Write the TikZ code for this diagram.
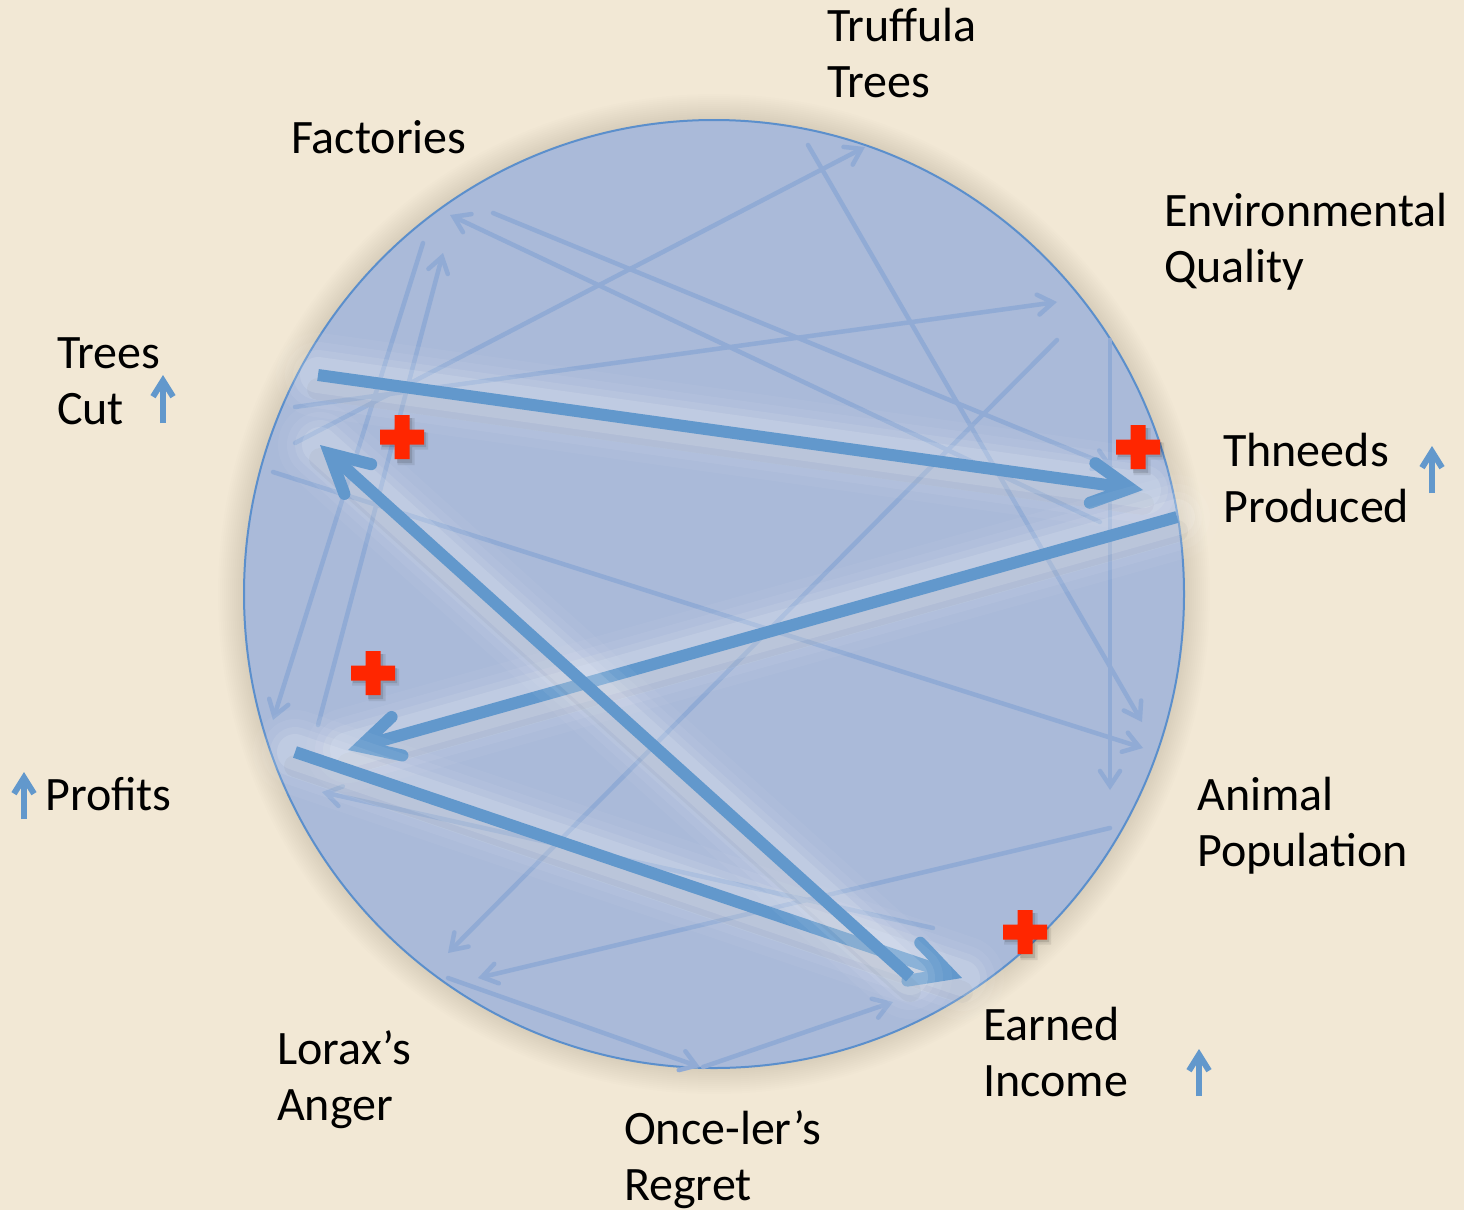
\documentclass[tikz,border=0pt]{standalone}
\usepackage{fontspec}
\setmainfont{Carlito}
\usetikzlibrary{arrows.meta}
\definecolor{parch}{HTML}{F2E8D5}
\definecolor{disc}{HTML}{AABAD9}
\definecolor{rim}{HTML}{5B8FCC}
\definecolor{bigblue}{HTML}{6298CC}
\definecolor{faintblue}{HTML}{91ABD5}
\definecolor{plusred}{HTML}{FF2600}
\tikzset{
  lbl/.style={anchor=base west, inner sep=0pt, font=\fontsize{48}{56}\selectfont, text=black},
  faintline/.style={draw=faintblue, line width=4.5pt, line cap=round,
     -{Straight Barb[length=15pt,width=20pt,line cap=round]}},
  bigline/.style={draw=bigblue, line width=12pt,
     -{Straight Barb[length=38pt,width=40pt,line cap=round]}},
  glowA/.style={draw=white, line width=84pt, line cap=round, opacity=0.045},
  glowB/.style={draw=white, line width=66pt, line cap=round, opacity=0.06},
  glowC/.style={draw=white, line width=50pt, line cap=round, opacity=0.08},
  glowD/.style={draw=white, line width=36pt, line cap=round, opacity=0.12},
  bigshadow/.style={draw=black, line width=22pt, line cap=round, opacity=0.045, transform canvas={yshift=-14pt}},
  upmark/.style={draw=bigblue, line width=6pt, -{Straight Barb[length=16pt,width=20pt]}},
  redplus/.pic={
    \fill[black, opacity=0.08] (-21,-4.5) rectangle (26,12.5) (-4.5,-19) rectangle (12.5,28);
    \fill[black, opacity=0.12] (-20,-5) rectangle (24,10) (-5,-19) rectangle (10,26);
    \fill[plusred] (-22,-7.5) rectangle (22,7.5) (-7.5,-22) rectangle (7.5,22);
  }
}
\begin{document}
\begin{tikzpicture}[x=1pt,y=-1pt]
\useasboundingbox (0,0) rectangle (1464,1210);
\fill[parch] (0,0) rectangle (1464,1210);

% disc with soft shadow
\coordinate (cen) at (714,594);
\foreach \r in {2,4,...,26} {
  \fill[black, opacity=0.008] (cen) ellipse [x radius=470+\r, y radius=474+\r];
}
\fill[disc] (cen) ellipse [x radius=470, y radius=474];
\draw[rim, line width=2pt] (cen) ellipse [x radius=470, y radius=474];

% endpoints of the faint links
\coordinate (l1s) at (808,145);  \coordinate (l1e) at (1142,722);
\coordinate (l2s) at (1110,340); \coordinate (l2e) at (1110,790);
\coordinate (l3s) at (295,407);  \coordinate (l3e) at (1057,302);
\coordinate (l4s) at (295,443);  \coordinate (l4e) at (865,147);
\coordinate (l5s) at (1100,522); \coordinate (l5e) at (450,215);
\coordinate (l6s) at (493,213);  \coordinate (l6e) at (1113,467);
\coordinate (l7s) at (1057,340); \coordinate (l7e) at (448,953);
\coordinate (l8s) at (1110,828); \coordinate (l8e) at (478,978);
\coordinate (l9s) at (933,928);  \coordinate (l9e) at (322,792);
\coordinate (l10s) at (448,978); \coordinate (l10e) at (700,1067);
\coordinate (l11s) at (703,1067);\coordinate (l11e) at (893,1002);
\coordinate (l12s) at (423,243); \coordinate (l12e) at (273,720);
\coordinate (l13s) at (318,725); \coordinate (l13e) at (443,253);
\coordinate (l14s) at (273,472); \coordinate (l14e) at (1143,748);

\foreach \i in {1,...,14} {
  \draw[faintline] (l\i s) -- (l\i e);
}

% the four main links
\coordinate (as) at (318,375);  \coordinate (ae) at (1143,490);
\coordinate (bs) at (1177,517); \coordinate (be) at (348,750);
\coordinate (cs) at (295,752);  \coordinate (ce) at (962,978);
\coordinate (ds) at (910,977);  \coordinate (de) at (320,445);

\foreach \k in {a,b,c,d} {
  \draw[bigshadow] (\k s) -- (\k e);
  \draw[glowA] (\k s) -- (\k e);
  \draw[glowB] (\k s) -- (\k e);
  \draw[glowC] (\k s) -- (\k e);
  \draw[glowD] (\k s) -- (\k e);
  \draw[bigline] (\k s) -- (\k e);
}

% red plus marks
\pic at (402,437) {redplus};
\pic at (1138,447) {redplus};
\pic at (373,673) {redplus};
\pic at (1025,932) {redplus};

% labels
\node[lbl] (truffula) at (827,41) {\begin{tabular}[t]{@{}l@{}}Truffula\\Trees\end{tabular}};
\node[lbl] (factories) at (291,153) {Factories};
\node[lbl] (envq) at (1164,226) {\begin{tabular}[t]{@{}l@{}}Environmental\\Quality\end{tabular}};
\node[lbl] (treescut) at (57,368) {\begin{tabular}[t]{@{}l@{}}Trees\\Cut\end{tabular}};
\node[lbl] (thneeds) at (1223,466) {\begin{tabular}[t]{@{}l@{}}Thneeds\\Produced\end{tabular}};
\node[lbl] (profits) at (45,810) {Profits};
\node[lbl] (animal) at (1197,810) {\begin{tabular}[t]{@{}l@{}}Animal\\Population\end{tabular}};
\node[lbl] (earned) at (983,1040) {\begin{tabular}[t]{@{}l@{}}Earned\\Income\end{tabular}};
\node[lbl] (lorax) at (277,1064) {\begin{tabular}[t]{@{}l@{}}Lorax’s\\Anger\end{tabular}};
\node[lbl] (onceler) at (624,1144) {\begin{tabular}[t]{@{}l@{}}Once-ler’s\\Regret\end{tabular}};

% small rising arrows
\coordinate (u1s) at (163,423);  \coordinate (u1e) at (163,375);
\coordinate (u2s) at (1432,493); \coordinate (u2e) at (1432,446);
\coordinate (u3s) at (24,819);   \coordinate (u3e) at (24,772);
\coordinate (u4s) at (1199,1096);\coordinate (u4e) at (1199,1049);
\foreach \i in {1,...,4} {
  \draw[upmark] (u\i s) -- (u\i e);
}
\end{tikzpicture}
\end{document}
